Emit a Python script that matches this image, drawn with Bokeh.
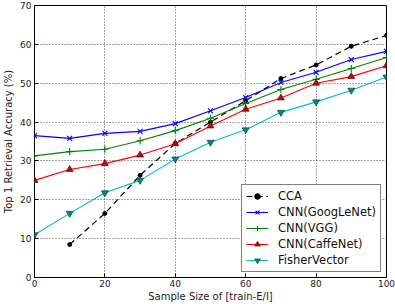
from bokeh.plotting import figure
from bokeh.models import Range1d, FixedTicker, Legend, LegendItem
from bokeh.embed import file_html
from bokeh.resources import INLINE

# sample sizes (x) and top-1 retrieval accuracy for each method
x_all = [0, 10, 20, 30, 40, 50, 60, 70, 80, 90, 100]
x_cca = [10, 20, 30, 40, 50, 60, 70, 80, 90, 100]

cca = [8.5, 16.5, 26.3, 34.5, 40.0, 45.5, 51.2, 54.7, 59.5, 62.3]
googlenet = [36.5, 35.8, 37.1, 37.6, 39.6, 42.9, 46.3, 50.2, 52.8, 56.1, 58.2]
vgg = [31.3, 32.4, 33.0, 35.2, 37.8, 41.0, 44.8, 48.4, 51.0, 53.8, 56.6]
caffenet = [25.0, 27.8, 29.3, 31.5, 34.4, 39.0, 43.3, 46.2, 50.0, 51.7, 54.5]
fisher = [11.0, 16.5, 21.8, 25.0, 30.5, 34.8, 38.0, 42.5, 45.2, 48.2, 51.6]

x_ticks = [0, 20, 40, 60, 80, 100]
y_ticks = [0, 10, 20, 30, 40, 50, 60, 70]

FONT = "DejaVu Sans"

p = figure(width=395, height=304, output_backend="svg", toolbar_location=None,
           x_range=Range1d(0, 100), y_range=Range1d(0, 70),
           min_border_left=30, min_border_right=9, min_border_top=5, min_border_bottom=4)

p.outline_line_color = "black"
p.outline_line_width = 1
p.background_fill_color = "white"
p.border_fill_color = "white"

for ax in (p.xaxis[0], p.yaxis[0]):
    ax.major_tick_in = 4
    ax.major_tick_out = 0
    ax.minor_tick_line_color = None
    ax.axis_line_color = None
    ax.major_label_text_font = FONT
    ax.major_label_text_font_size = "9px"
    ax.major_label_text_color = "#222222"
    ax.axis_label_text_font = FONT
    ax.axis_label_text_font_size = "10px"
    ax.axis_label_text_font_style = "normal"
    ax.axis_label_text_color = "#222222"

p.xaxis[0].ticker = FixedTicker(ticks=x_ticks)
p.yaxis[0].ticker = FixedTicker(ticks=y_ticks)
p.xaxis[0].axis_label = "Sample Size of [train-E/I]"
p.yaxis[0].axis_label = "Top 1 Retrieval Accuracy (%)"
p.xaxis[0].major_label_standoff = 2
p.yaxis[0].major_label_standoff = 3
p.xaxis[0].axis_label_standoff = 1
p.yaxis[0].axis_label_standoff = 3

for g in (p.xgrid[0], p.ygrid[0]):
    g.grid_line_color = "black"
    g.grid_line_alpha = 0.7
    g.grid_line_dash = "1 2"
    g.grid_line_width = 1
p.xgrid[0].ticker = FixedTicker(ticks=x_ticks)
p.ygrid[0].ticker = FixedTicker(ticks=y_ticks)

items = []

l = p.line(x_cca, cca, line_color="black", line_dash="6 4", line_width=1.2)
m = p.scatter(x_cca, cca, marker="circle", size=4, fill_color="black", line_color="black")
items.append(LegendItem(label="CCA", renderers=[l, m]))

l = p.line(x_all, googlenet, line_color="#0000ff", line_width=1.1)
m = p.scatter(x_all, googlenet, marker="x", size=7, line_color="#0000ff", line_width=1.1)
items.append(LegendItem(label="CNN(GoogLeNet)", renderers=[l, m]))

l = p.line(x_all, vgg, line_color="#008000", line_width=1.1)
m = p.scatter(x_all, vgg, marker="cross", size=7, line_color="#008000", line_width=1.1)
items.append(LegendItem(label="CNN(VGG)", renderers=[l, m]))

l = p.line(x_all, caffenet, line_color="#ff0000", line_width=1.1)
m = p.scatter(x_all, caffenet, marker="triangle", size=7, fill_color="#b01010",
              line_color="#400000", line_width=0.6)
items.append(LegendItem(label="CNN(CaffeNet)", renderers=[l, m]))

l = p.line(x_all, fisher, line_color="#00bfbf", line_width=1.1)
m = p.scatter(x_all, fisher, marker="inverted_triangle", size=7, fill_color="#008a8a",
              line_color="#003030", line_width=0.6)
items.append(LegendItem(label="FisherVector", renderers=[l, m]))

legend = Legend(items=items, location="bottom_right", margin=5,
                border_line_color="black", border_line_width=1,
                background_fill_color="white", background_fill_alpha=1,
                label_text_font=FONT, label_text_font_size="11.5px",
                label_text_color="#111111",
                glyph_width=22, glyph_height=14, label_height=14,
                spacing=2, padding=4, label_standoff=10)
p.add_layout(legend, "center")

open("out.html", "w").write(file_html(p, INLINE))
